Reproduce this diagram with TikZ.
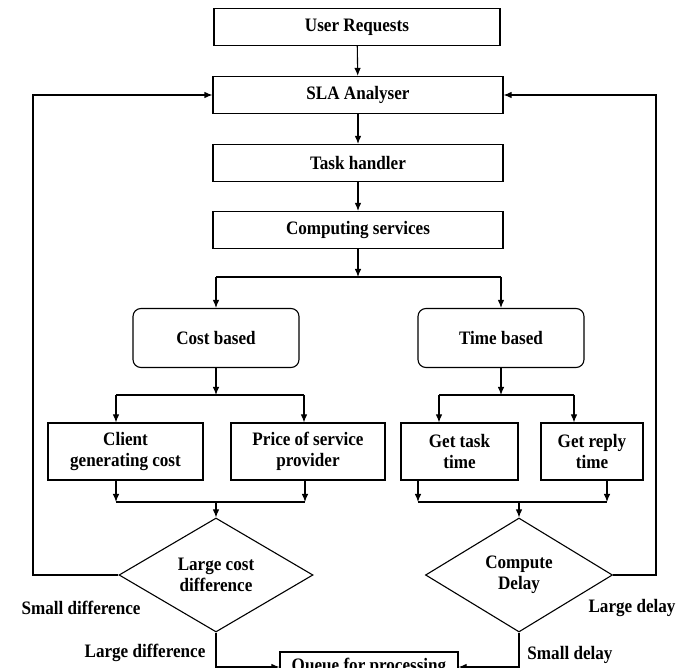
\documentclass[tikz,border=0pt]{standalone}
\usepackage{fontspec}
\setmainfont{Liberation Serif}[FakeStretch=0.9]
\usetikzlibrary{arrows.meta,shapes.geometric}

\begin{document}
\begin{tikzpicture}[x=1pt,y=-1pt,
  every node/.style={font=\bfseries\fontsize{19}{21}\selectfont, align=center},
  box/.style={draw, line width=1.1pt, inner sep=0pt, minimum height=37pt},
  rbox/.style={box, rounded corners=8pt, minimum width=166pt, minimum height=59pt},
  dbox/.style={draw, diamond, line width=1.1pt, inner sep=0pt, minimum width=194pt, minimum height=114pt},
  line/.style={line width=1.1pt},
  arr/.style={line, -{Latex[length=8pt,width=6.5pt]}}]
  \useasboundingbox (0,0) rectangle (681,668);
  \clip (0,0) rectangle (681,668);

  % Main chain
  \node[box, minimum width=286pt] (user) at (357,27) {User Requests};
  \node[box, minimum width=290pt] (sla) at (358,95) {SLA Analyser};
  \node[box, minimum width=290pt] (task) at (358,163) {Task handler};
  \node[box, minimum width=290pt] (comp) at (358,230) {Computing services};
  \draw[arr] (user) -- (sla);
  \draw[arr] (sla) -- (task);
  \draw[arr] (task) -- (comp);

  % Cost / time split
  \node[rbox] (cost) at (216,338) {Cost based};
  \node[rbox] (time) at (501,338) {Time based};
  \coordinate (s1) at (358,277);
  \coordinate (s1l) at (216,277);
  \coordinate (s1r) at (501,277);
  \draw[arr] (comp) -- (s1);
  \draw[line] (s1l) -- (s1r);
  \draw[arr] (s1l) -- (cost);
  \draw[arr] (s1r) -- (time);

  % Cost branch
  \node[box, minimum width=155pt, minimum height=57pt] (client) at (125.5,451.5) {Client\\generating cost};
  \node[box, minimum width=154pt, minimum height=57pt] (price) at (308,451.5) {Price of service\\provider};
  \coordinate (s2) at (216,395);
  \coordinate (s2a) at (116,395);
  \coordinate (s2b) at (304,395);
  \draw[arr] (cost) -- (s2);
  \draw[line] (s2a) -- (s2b);
  \draw[arr] (s2a) -- (s2a |- client.north);
  \draw[arr] (s2b) -- (s2b |- price.north);

  % Time branch
  \node[box, minimum width=117pt, minimum height=57pt] (gettask) at (459.5,451.5) {Get task\\time};
  \node[box, minimum width=102pt, minimum height=57pt] (getreply) at (592,451.5) {Get reply\\time};
  \coordinate (s3) at (501,395);
  \coordinate (s3a) at (439,395);
  \coordinate (s3b) at (574,395);
  \draw[arr] (time) -- (s3);
  \draw[line] (s3a) -- (s3b);
  \draw[arr] (s3a) -- (s3a |- gettask.north);
  \draw[arr] (s3b) -- (s3b |- getreply.north);

  % Decisions
  \node[dbox] (costdiff) at (216,575) {Large cost\\difference};
  \node[dbox, minimum width=187pt] (delay) at (519,575) {Compute\\Delay};
  \coordinate (m1a) at (116,502);
  \coordinate (m1b) at (305,502);
  \coordinate (m1) at (216,502);
  \draw[arr] (m1a |- client.south) -- (m1a);
  \draw[arr] (m1b |- price.south) -- (m1b);
  \draw[line] (m1a) -- (m1b);
  \draw[arr] (m1) -- (costdiff);
  \coordinate (m2a) at (418,502);
  \coordinate (m2b) at (607,502);
  \coordinate (m2) at (519,502);
  \draw[arr] (m2a |- gettask.south) -- (m2a);
  \draw[arr] (m2b |- getreply.south) -- (m2b);
  \draw[line] (m2a) -- (m2b);
  \draw[arr] (m2) -- (delay);

  % Feedback loops
  \coordinate (fbl) at (33,95);
  \coordinate (fbr) at (656,95);
  \draw[arr] (costdiff.west) -| (fbl) -- (sla.west);
  \draw[arr] (delay.east) -| (fbr) -- (sla.east);

  % Queue
  \node[box, minimum width=178pt, minimum height=30pt] (queue) at (369,667) {Queue for processing};
  \draw[arr] (costdiff.south) |- (queue.west);
  \draw[arr] (delay.south) |- (queue.east);

  % Branch labels
  \node (smalldiff) at (81,608) {Small difference};
  \node (largediff) at (145,653) {Large difference};
  \node (largedelay) at (632,608) {Large delay};
  \node (smalldelay) at (570,655) {Small delay};
\end{tikzpicture}
\end{document}
